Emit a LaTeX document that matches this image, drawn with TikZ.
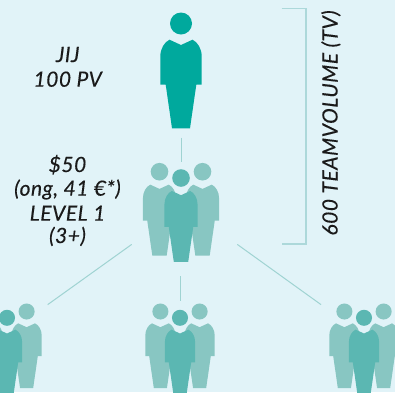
\documentclass[tikz,border=0pt]{standalone}
\usepackage{fontspec}
\setmainfont{Lato}[LetterSpace=2.5,ItalicFeatures={FakeBold=0.25}]
\definecolor{bgc}{HTML}{E1F3F8}
\definecolor{topc}{HTML}{00A99D}
\definecolor{frontc}{HTML}{5BB7B2}
\definecolor{backc}{HTML}{88C6C2}
\definecolor{linec}{HTML}{9FD3D2}
\definecolor{brackc}{HTML}{ACD8DA}
\definecolor{txt}{HTML}{1A1A1A}
\tikzset{
  label text/.style={font=\fontsize{21}{24}\selectfont\itshape,text=txt,anchor=base,inner sep=0pt},
  connector/.style={draw=linec,line width=1pt},
  bracket/.style={draw=brackc,line width=1.3pt},
}
\newcommand{\personfig}[5]{% x, y, scale, colour, halo width
  \begin{scope}[shift={(#1,#2)},scale=#3]
    \fill[#4,preaction={draw=bgc,line width=#5}] (0,0) circle (11);
    \fill[#4]
      (-11.5,16.2) -- (0,21.5) -- (11.5,16.2)
      .. controls (16.5,18.5) and (20.7,25) .. (20.7,33)
      -- (20.7,61.2) -- (15.3,61.2) -- (9,104.8) -- (-9,104.8) -- (-15.3,61.2) -- (-20.7,61.2) -- (-20.7,33)
      .. controls (-20.7,25) and (-16.5,18.5) .. (-11.5,16.2) -- cycle;
  \end{scope}}
\newcommand{\persongroup}[3]{% centre x, back-head y, scale
  \personfig{#1-21.5*#3/0.8}{#2}{#3}{backc}{0pt}
  \personfig{#1+21.5*#3/0.8}{#2}{#3}{backc}{0pt}
  \personfig{#1}{#2+6.3}{#3}{frontc}{4pt}}
\begin{document}
\begin{tikzpicture}[x=1pt,y=-1pt]
  \useasboundingbox (0,0) rectangle (395,392);
  \clip (0,0) rectangle (395,392);
  \fill[bgc] (0,0) rectangle (395,392);
  \personfig{181}{23.5}{1}{topc}{0pt}
  \persongroup{181}{171.7}{0.8}
  \persongroup{7}{311.5}{0.73}
  \persongroup{180}{311.5}{0.73}
  \persongroup{364}{311.5}{0.73}
  \coordinate (a1) at (181,137.5);
  \coordinate (a2) at (181,161.7);
  \coordinate (b1) at (131.7,244.4);
  \coordinate (b2) at (47.7,304.6);
  \coordinate (c1) at (237.3,244.4);
  \coordinate (c2) at (321,304.6);
  \coordinate (d1) at (180.7,276);
  \coordinate (d2) at (180.7,300.7);
  \draw[connector] (a1) -- (a2);
  \draw[connector] (b1) -- (b2);
  \draw[connector] (c1) -- (c2);
  \draw[connector] (d1) -- (d2);
  \coordinate (e1) at (281.7,8.7);
  \coordinate (e2) at (306,8.7);
  \coordinate (e3) at (306,244);
  \coordinate (e4) at (281.7,244);
  \draw[bracket] (e1) -- (e2) -- (e3) -- (e4);
  \node[label text] (jij) at (67.7,62) {JIJ};
  \node[label text] (pv) at (67.7,86.7) {100 PV};
  \node[label text] (usd) at (67.5,172) {\$50};
  \node[label text] (ong) at (67.5,195.7) {(ong, 41 €*)};
  \node[label text] (lvl) at (67.5,220.7) {LEVEL 1};
  \node[label text] (three) at (67.5,243) {(3+)};
  \node[label text,rotate=90] (tv) at (337.5,123) {600 TEAMVOLUME (TV)};
\end{tikzpicture}
\end{document}
